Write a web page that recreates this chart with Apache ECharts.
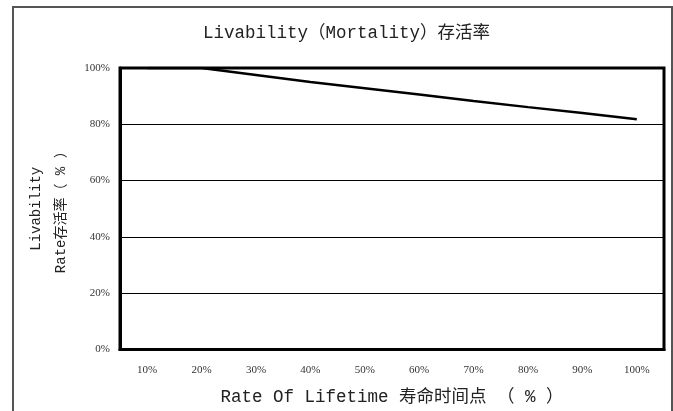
<!DOCTYPE html>
<html>
<head>
<meta charset="utf-8">
<script src="https://cdn.jsdelivr.net/npm/echarts@6/dist/echarts.min.js"></script>
<style>html,body{margin:0;padding:0;background:#fff}#c{width:673px;height:411px}</style>
</head>
<body>
<div id="c"></div>
<script>
var categories = ['10%','20%','30%','40%','50%','60%','70%','80%','90%','100%'];
var livability = [100, 100, 97.5, 95.0, 92.8, 90.6, 88.3, 86.1, 84.0, 81.8];
var yTicks = [0, 20, 40, 60, 80, 100];

var monoFont = '"Liberation Mono", "Noto Sans CJK SC", monospace';
var serifFont = '"Liberation Serif", "DejaVu Serif", serif';

var chart = echarts.init(document.getElementById('c'));
chart.setOption({
  animation: false,
  backgroundColor: '#fff',
  title: {
    text: 'Livability（Mortality）存活率',
    left: 198,
    top: 20,
    textStyle: { fontFamily: monoFont, fontSize: 17.5, fontWeight: 'normal', color: '#222' }
  },
  graphic: [{
    type: 'rect',
    shape: { x: 13, y: 7, width: 659, height: 420 },
    style: { fill: 'none', stroke: '#555', lineWidth: 2 },
    silent: true, z: -1
  }],
  grid: {
    left: 120, right: 9, top: 68, bottom: 58,
    show: true, borderColor: '#000', borderWidth: 3
  },
  xAxis: {
    type: 'category',
    data: categories,
    boundaryGap: true,
    name: 'Rate Of Lifetime 寿命时间点 （ % ）',
    nameLocation: 'middle',
    nameGap: 39,
    nameTextStyle: { fontFamily: monoFont, fontSize: 17.5, color: '#222' },
    axisLine: { lineStyle: { color: '#000', width: 3 } },
    axisTick: { inside: true, length: 4, lineStyle: { color: '#000', width: 1 } },
    axisLabel: { fontFamily: serifFont, fontSize: 11, color: '#333', margin: 15 },
    splitLine: { show: false }
  },
  yAxis: {
    type: 'value',
    min: yTicks[0],
    max: yTicks[yTicks.length - 1],
    interval: 20,
    name: 'Livability\nRate存活率（ % ）',
    nameLocation: 'middle',
    nameGap: 43,
    nameRotate: 90,
    nameTextStyle: { fontFamily: monoFont, fontSize: 14, color: '#222', lineHeight: 25 },
    axisLine: { show: true, lineStyle: { color: '#000', width: 3 } },
    axisTick: { show: false },
    axisLabel: { fontFamily: serifFont, fontSize: 11, color: '#333', margin: 10, formatter: '{value}%' },
    splitLine: { show: true, lineStyle: { color: '#000', width: 1 } }
  },
  series: [{
    type: 'line',
    data: livability,
    symbol: 'none',
    lineStyle: { color: '#000', width: 2.5 },
    z: 3
  }]
});
</script>
</body>
</html>
